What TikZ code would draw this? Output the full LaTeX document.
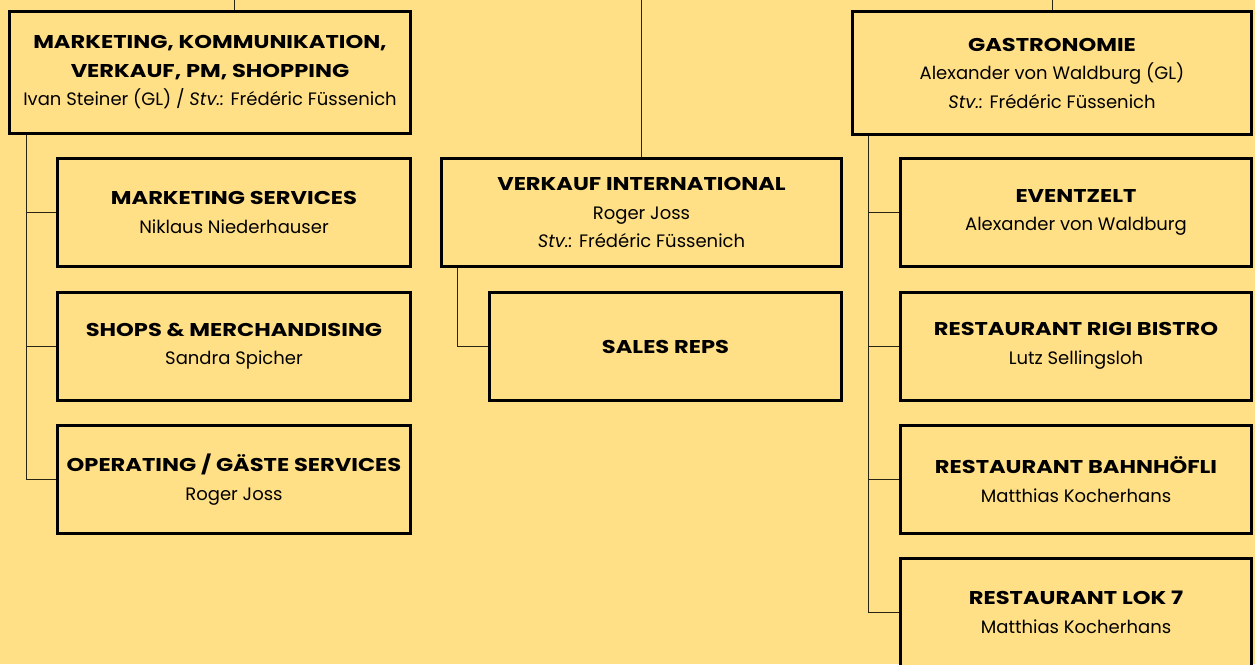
\documentclass[tikz,border=0pt]{standalone}
\usepackage{fontspec}
\setmainfont{Poppins}[BoldFeatures={FakeStretch=1.22}]
\usepackage{tikz}
\usepackage{xcolor}
\definecolor{gelb}{RGB}{255,224,134}
\definecolor{strich}{RGB}{40,36,20}
\newcommand{\ttl}[1]{{\fontsize{18.5}{29}\selectfont\textbf{#1}}}

\tikzset{
  box/.style={draw=black, line width=3pt, fill=gelb, rectangle, inner sep=0pt,
    align=center, font=\fontsize{18}{28.5}\selectfont},
  kind/.style={box, minimum width=353pt, minimum height=108pt},
  link/.style={draw=strich, line width=0.9pt}
}

\begin{document}
\begin{tikzpicture}[x=1pt, y=-1pt]
                        \useasboundingbox (0,0) rectangle (1255,664);
                        \fill[gelb] (0,0) rectangle (1255,664);
                        \node[box, minimum width=401pt, minimum height=122pt] (mkt) at (210,72.5)
                            {\ttl{MARKETING, KOMMUNIKATION,}\\\ttl{VERKAUF, PM, SHOPPING}\\Ivan Steiner (GL) / \textit{Stv.:} Frédéric Füssenich};
                        \node[kind] (msv) at (234,212.5) {\ttl{MARKETING SERVICES}\\Niklaus Niederhauser};
                        \node[kind] (shop) at (234,346) {\ttl{SHOPS \& MERCHANDISING}\\Sandra Spicher};
                        \node[kind] (ops) at (234,479.5) {\ttl{OPERATING / GÄSTE SERVICES}\\Roger Joss};
                        \node[box, minimum width=400pt, minimum height=108pt] (vi) at (641.5,212.5)
                            {\ttl{VERKAUF INTERNATIONAL}\\Roger Joss\\\textit{Stv.:} Frédéric Füssenich};
                        \node[kind, minimum width=352pt] (reps) at (665.5,346.5) {\ttl{SALES REPS}};
                        \node[box, minimum width=399pt, minimum height=123pt] (gastro) at (1052,73)
                            {\ttl{GASTRONOMIE}\\Alexander von Waldburg (GL)\\\textit{Stv.:} Frédéric Füssenich};
                        \node[kind, minimum width=351pt] (zelt) at (1076,212.5) {\ttl{EVENTZELT}\\Alexander von Waldburg};
                        \node[kind, minimum width=351pt] (rigi) at (1076,346) {\ttl{RESTAURANT RIGI BISTRO}\\Lutz Sellingsloh};
                        \node[kind, minimum width=351pt] (bahn) at (1076,479.5) {\ttl{RESTAURANT BAHNHÖFLI}\\Matthias Kocherhans};
                        \node[kind, minimum width=351pt] (lok) at (1076,612.5) {\ttl{RESTAURANT LOK 7}\\Matthias Kocherhans};
                        \coordinate (inL) at (234,0);
                        \draw[link] (inL) -- (inL |- mkt.north);
                        \draw[link] (vi.north) -- (vi.north |- inL);
                        \draw[link] (gastro.north) -- (gastro.north |- inL);
                        \draw[link] ([xshift=18.5pt]mkt.south west) |- (ops.west);
                        \draw[link] ([xshift=18.5pt]mkt.south west) |- (msv.west);
                        \draw[link] ([xshift=18.5pt]mkt.south west) |- (shop.west);
                        \draw[link] ([xshift=17.5pt]vi.south west) |- (reps.west);
                        \draw[link] ([xshift=17.5pt]gastro.south west) |- (lok.west);
                        \draw[link] ([xshift=17.5pt]gastro.south west) |- (zelt.west);
                        \draw[link] ([xshift=17.5pt]gastro.south west) |- (rigi.west);
                        \draw[link] ([xshift=17.5pt]gastro.south west) |- (bahn.west);
                    \end{tikzpicture}
\end{document}
